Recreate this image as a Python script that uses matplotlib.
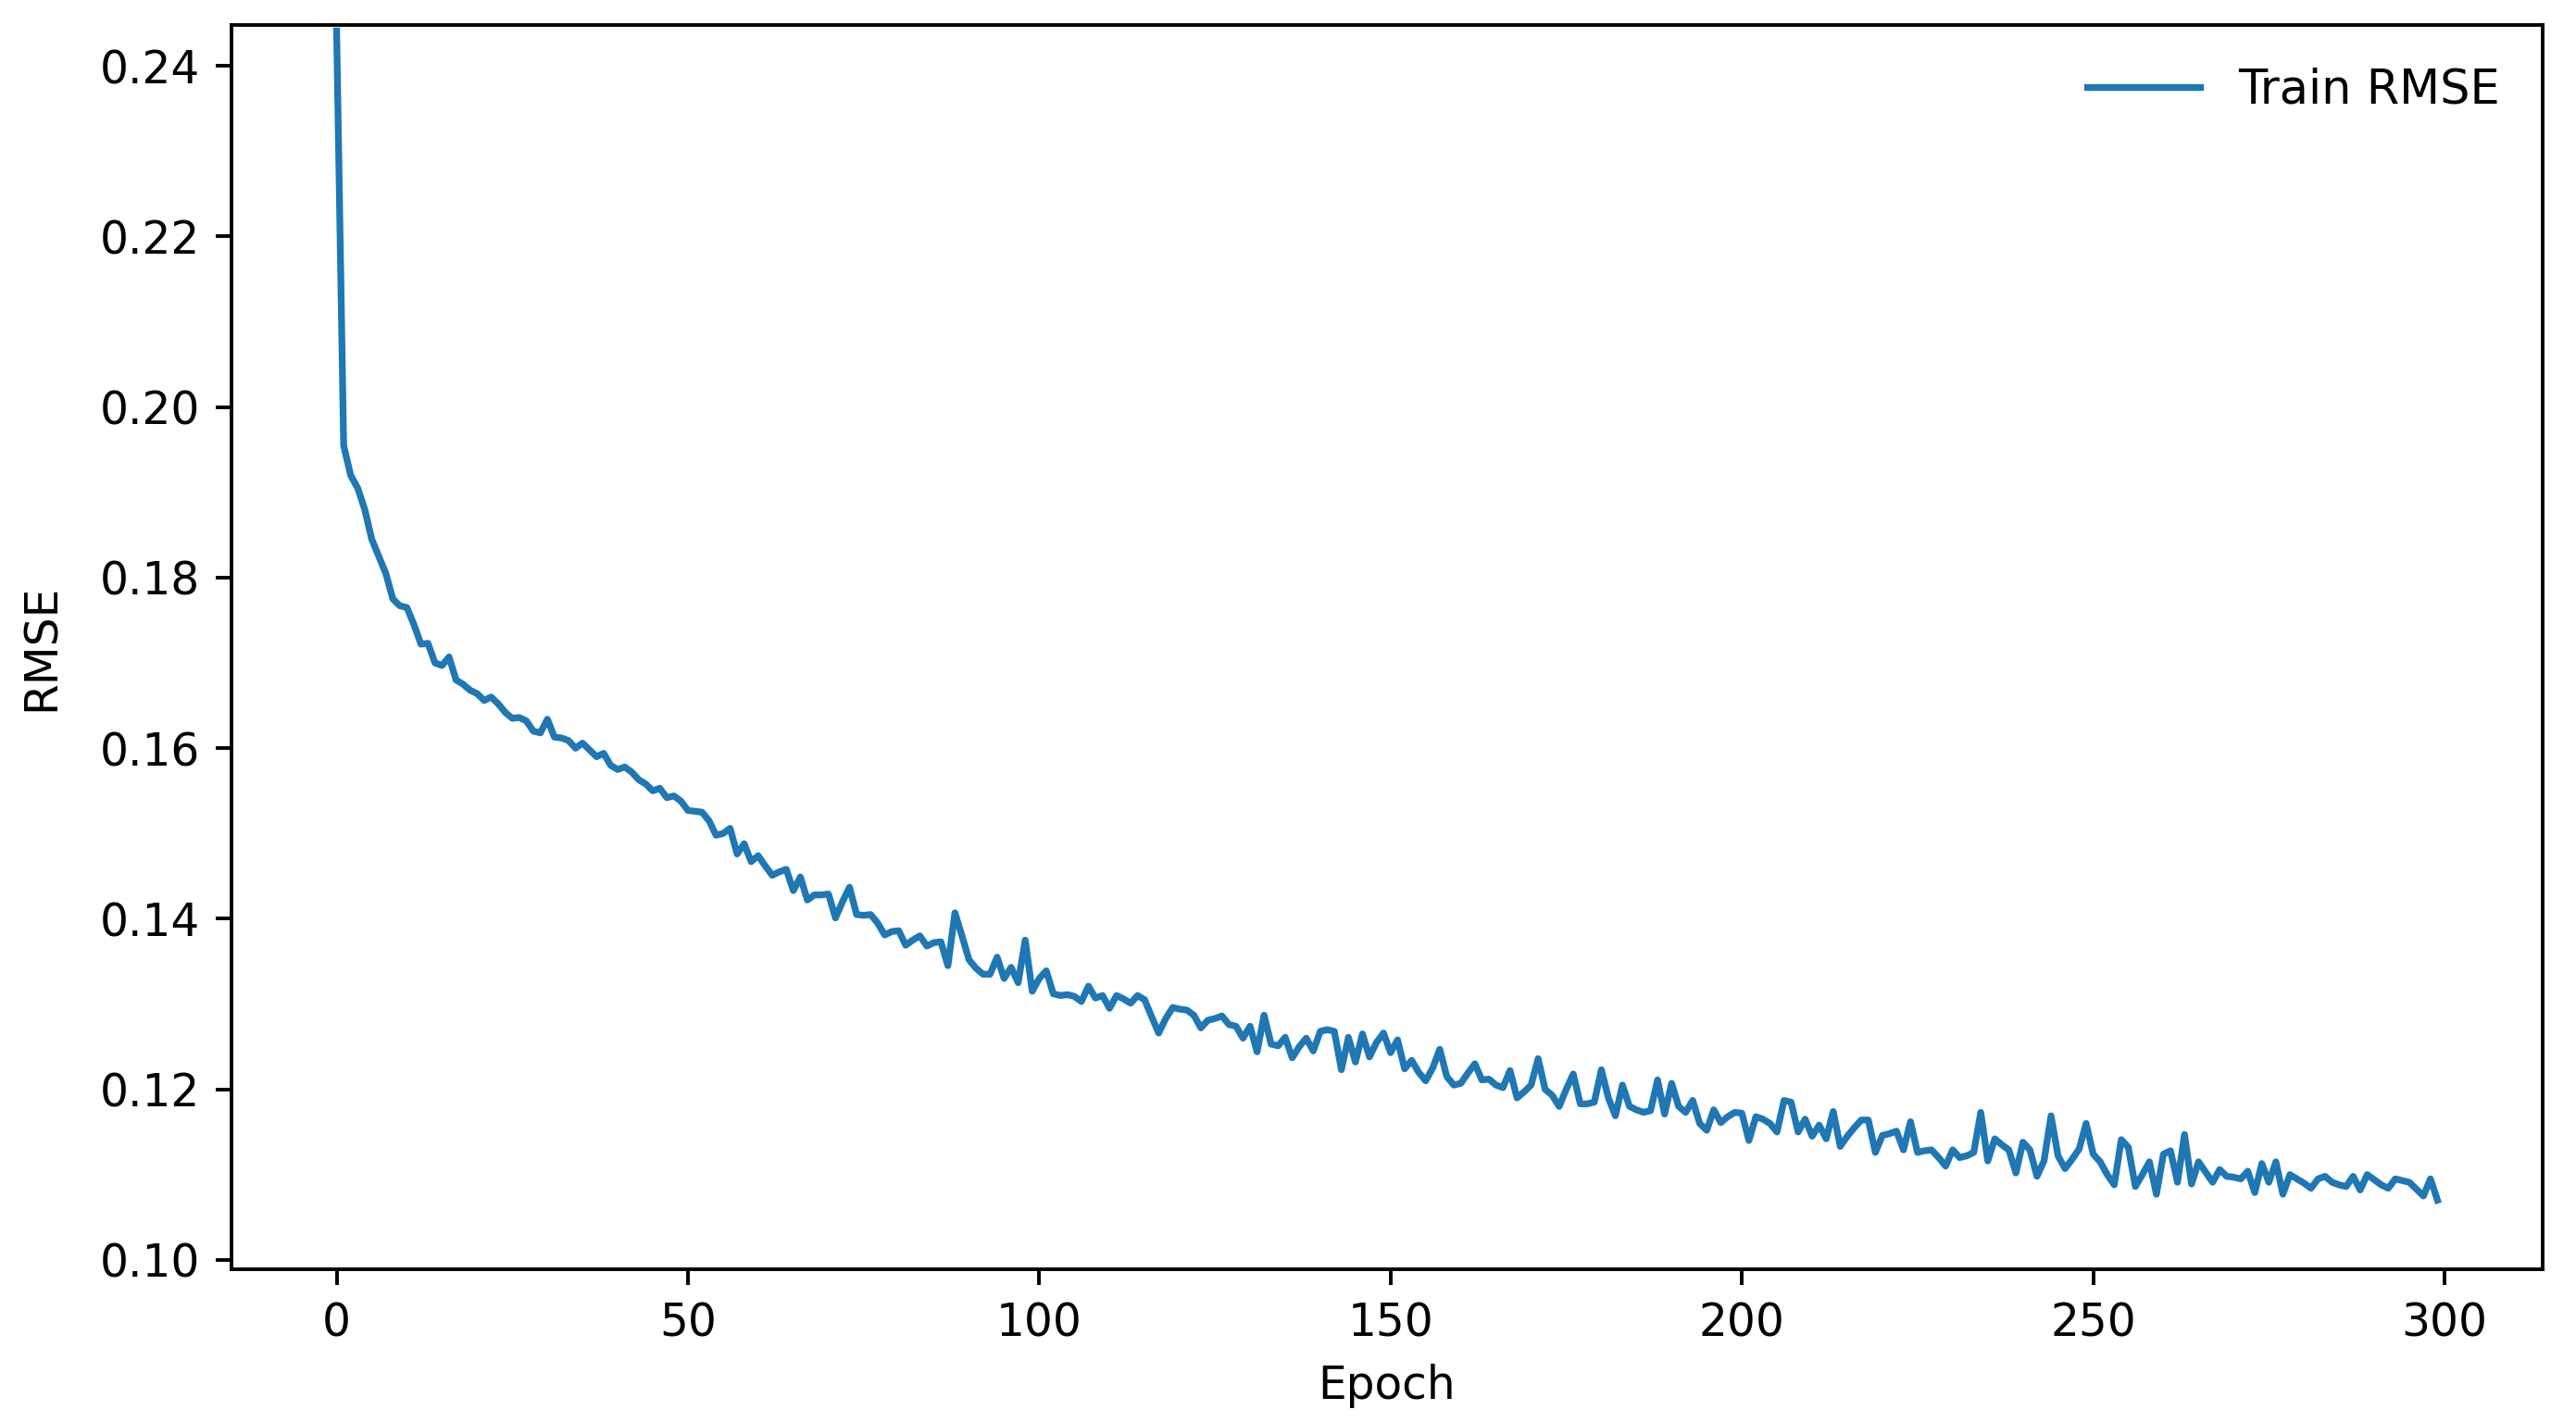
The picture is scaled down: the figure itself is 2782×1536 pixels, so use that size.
import numpy as np
import matplotlib
matplotlib.use("Agg")
import matplotlib.pyplot as plt

# train RMSE per epoch
rmse_0_49 = [0.2441, 0.1955, 0.1920, 0.1905, 0.1880, 0.1845, 0.1825, 0.1805, 0.1775, 0.1767,
             0.1765, 0.1745, 0.1722, 0.1723, 0.1700, 0.1697, 0.1707, 0.1680, 0.1675, 0.1668,
             0.1664, 0.1656, 0.1660, 0.1652, 0.1642, 0.1635, 0.1636, 0.1632, 0.1620, 0.1618,
             0.1634, 0.1613, 0.1612, 0.1609, 0.1600, 0.1606, 0.1598, 0.1590, 0.1594, 0.1580,
             0.1575, 0.1578, 0.1572, 0.1563, 0.1558, 0.1550, 0.1553, 0.1542, 0.1544, 0.1538]
rmse_50_99 = [0.1527, 0.1526, 0.1525, 0.1515, 0.1498, 0.1500, 0.1506, 0.1476, 0.1488, 0.1467,
              0.1474, 0.1462, 0.1451, 0.1455, 0.1458, 0.1433, 0.1449, 0.1422, 0.1428, 0.1428,
              0.1429, 0.1401, 0.1420, 0.1437, 0.1405, 0.1404, 0.1405, 0.1395, 0.1381, 0.1385,
              0.1386, 0.1369, 0.1375, 0.1380, 0.1368, 0.1372, 0.1373, 0.1345, 0.1407, 0.1380,
              0.1352, 0.1342, 0.1335, 0.1335, 0.1355, 0.1330, 0.1343, 0.1325, 0.1375, 0.1315]
rmse_100_149 = [0.1330, 0.1339, 0.1312, 0.1310, 0.1311, 0.1309, 0.1303, 0.1321, 0.1307, 0.1310,
                0.1295, 0.1310, 0.1306, 0.1301, 0.1310, 0.1305, 0.1285, 0.1266, 0.1283, 0.1296,
                0.1294, 0.1293, 0.1287, 0.1272, 0.1281, 0.1283, 0.1286, 0.1276, 0.1274, 0.1260,
                0.1274, 0.1244, 0.1287, 0.1253, 0.1251, 0.1261, 0.1237, 0.1250, 0.1260, 0.1245,
                0.1268, 0.1270, 0.1268, 0.1223, 0.1261, 0.1232, 0.1265, 0.1238, 0.1255, 0.1266]
rmse_150_199 = [0.1243, 0.1258, 0.1224, 0.1234, 0.1220, 0.1210, 0.1225, 0.1247, 0.1215, 0.1205,
                0.1207, 0.1219, 0.1230, 0.1211, 0.1212, 0.1205, 0.1202, 0.1222, 0.1190, 0.1197,
                0.1205, 0.1236, 0.1200, 0.1193, 0.1180, 0.1200, 0.1218, 0.1183, 0.1183, 0.1185,
                0.1223, 0.1190, 0.1169, 0.1205, 0.1180, 0.1176, 0.1173, 0.1175, 0.1211, 0.1171,
                0.1207, 0.1180, 0.1173, 0.1187, 0.1160, 0.1152, 0.1176, 0.1161, 0.1168, 0.1173]
rmse_200_249 = [0.1172, 0.1140, 0.1168, 0.1165, 0.1160, 0.1150, 0.1187, 0.1185, 0.1150, 0.1165,
                0.1145, 0.1158, 0.1142, 0.1174, 0.1133, 0.1145, 0.1155, 0.1164, 0.1164, 0.1126,
                0.1146, 0.1148, 0.1151, 0.1129, 0.1162, 0.1126, 0.1128, 0.1129, 0.1120, 0.1110,
                0.1129, 0.1120, 0.1122, 0.1126, 0.1173, 0.1116, 0.1142, 0.1135, 0.1129, 0.1102,
                0.1138, 0.1129, 0.1098, 0.1116, 0.1169, 0.1122, 0.1107, 0.1118, 0.1130, 0.1160]
rmse_250_299 = [0.1124, 0.1115, 0.1100, 0.1088, 0.1141, 0.1132, 0.1086, 0.1100, 0.1115, 0.1077,
                0.1124, 0.1128, 0.1091, 0.1147, 0.1089, 0.1115, 0.1103, 0.1091, 0.1106, 0.1098,
                0.1097, 0.1095, 0.1104, 0.1079, 0.1113, 0.1091, 0.1115, 0.1077, 0.1100, 0.1095,
                0.1090, 0.1084, 0.1095, 0.1098, 0.1091, 0.1088, 0.1086, 0.1098, 0.1082, 0.1100,
                0.1094, 0.1088, 0.1084, 0.1095, 0.1093, 0.1091, 0.1083, 0.1075, 0.1095, 0.1070]

train_rmse = (rmse_0_49 + rmse_50_99 + rmse_100_149 +
              rmse_150_199 + rmse_200_249 + rmse_250_299)
epochs = np.arange(len(train_rmse))

fig = plt.figure(figsize=(2782 / 350, 1536 / 350), dpi=350)
ax = fig.add_axes([0.0899, 0.1074, 0.8971, 0.875])

ax.plot(epochs, train_rmse, color="#1f77b4", linewidth=1.5, label="Train RMSE")
ax.set_ylim(0.0989, 0.2448)
ax.set_yticks([0.10, 0.12, 0.14, 0.16, 0.18, 0.20, 0.22, 0.24])
ax.set_xlabel("Epoch")
ax.set_ylabel("RMSE", labelpad=8)
ax.legend(loc="upper right", frameon=False, handlelength=2.4, fontsize=10.5)

fig.savefig("out.png", dpi=350)
